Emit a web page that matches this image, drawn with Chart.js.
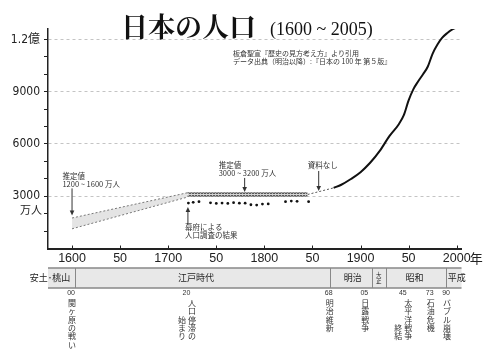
<!DOCTYPE html>
<html>
<head>
<meta charset="utf-8">
<script src="https://cdn.jsdelivr.net/npm/chart.js@4"></script>
<style>
html, body { margin: 0; padding: 0; background: #fff; }
</style>
</head>
<body>
<canvas id="myChart" width="500" height="353"></canvas>
<script>
// axis ticks
const xTicks = [1600, 1650, 1700, 1750, 1800, 1850, 1900, 1950, 2000];
const xTickLabels = ["1600", "50", "1700", "50", "1800", "50", "1900", "50", "2000"];
const yLabelValues = [3000, 6000, 9000, 12000];
const yLabelTexts = ["3000", "6000", "9000", "1.2億"];

// estimate band 1600-1720 (万人)
const estYears = [1600, 1720];
const estHigh = [1750, 3200];
const estLow = [1130, 2950];

// flat estimate 3000-3200
const flatYears = [1720, 1845];
const flatHigh = [3200, 3200];
const flatLow = [3000, 3000];

// no data
const gapYears = [1845, 1872];
const gapValues = [3100, 3480];

// census after Meiji
const censusYears = [1872, 1880, 1890, 1900, 1910, 1920, 1930, 1940, 1945, 1950, 1955, 1960, 1965, 1970, 1975, 1980, 1985, 1990, 1995, 2000, 2005];
const censusValues = [3480, 3660, 3990, 4380, 4920, 5600, 6450, 7150, 7650, 8500, 9150, 9600, 10000, 10450, 11190, 11710, 12100, 12360, 12560, 12690, 12780];

// shogunate surveys
const surveyYears = [1721, 1726, 1732, 1744, 1750, 1756, 1762, 1768, 1774, 1780, 1786, 1792, 1798, 1804, 1822, 1828, 1834, 1846];
const surveyValues = [2610, 2650, 2690, 2620, 2590, 2610, 2590, 2630, 2600, 2600, 2510, 2490, 2550, 2560, 2690, 2720, 2710, 2690];

// eras
const periodNames = ["安土･桃山", "江戸時代", "明治", "大正", "昭和", "平成"];
const periodStarts = [1575, 1603, 1868, 1912, 1926, 1989];
const periodLabelYears = [1577, 1729, 1892, 1919, 1956, 2000];

// events
const eventYears = [1600, 1720, 1868, 1905, 1945, 1973, 1990];
const eventNums = ["00", "20", "68", "05", "45", "73", "90"];
const eventTexts = [["関ヶ原の戦い"], ["人口停滞の", "始まり"], ["明治維新"], ["日露戦争"], ["太平洋戦争", "終結"], ["石油危機"], ["バブル崩壊"]];

const CJK = '"Noto Sans CJK JP", sans-serif';

function pairs(xs, ys){
    return xs.map((v, i) => ({x: v, y: ys[i]}));
}

function makePattern(){
    const c = document.createElement('canvas');
    c.width = 3; c.height = 3;
    const g = c.getContext('2d');
    g.fillStyle = '#d4d4d4';
    g.fillRect(0, 0, 3, 3);
    g.fillStyle = '#555';
    g.fillRect(0, 0, 2, 2);
    return document.getElementById('myChart').getContext('2d').createPattern(c, 'repeat');
}

function arrow(ctx, x, y0, y1){
    const dir = y1 > y0 ? 1 : -1;
    ctx.beginPath();
    ctx.moveTo(x, y0);
    ctx.lineTo(x, y1 - dir * 4);
    ctx.stroke();
    ctx.beginPath();
    ctx.moveTo(x, y1);
    ctx.lineTo(x - 2.3, y1 - dir * 5);
    ctx.lineTo(x + 2.3, y1 - dir * 5);
    ctx.closePath();
    ctx.fill();
}

const extras = {
    id: 'extras',
    afterDraw(chart){
        const {ctx, chartArea} = chart;
        const x = chart.scales.x, y = chart.scales.y;
        ctx.save();

        // title
        ctx.fillStyle = '#111';
        ctx.textBaseline = 'alphabetic';
        ctx.textAlign = 'left';
        ctx.font = 'bold 27px "Noto Serif CJK JP", ' + CJK;
        ctx.fillText('日本の人口', 121, 37);
        ctx.font = '18px "Liberation Serif", serif';
        ctx.fillText('(1600 ~ 2005)', 270, 35);

        ctx.fillStyle = '#333';
        ctx.font = '7px ' + CJK;
        ctx.textBaseline = 'middle';
        ctx.fillText('板倉聖宣『歴史の見方考え方』より引用', 233, 53);
        ctx.fillText('データ出典（明治以降）:『日本の 100 年 第５版』', 233, 61);

        // unit labels
        ctx.fillStyle = '#222';
        ctx.font = '11px ' + CJK;
        ctx.textAlign = 'right';
        ctx.fillText('万人', 42, y.getPixelForValue(3000) + 14);
        ctx.textAlign = 'left';
        ctx.font = '13px ' + CJK;
        ctx.fillText('年', x.getPixelForValue(2000) + 13, chartArea.bottom + 10);

        // small upward ticks on x axis
        ctx.strokeStyle = '#222';
        ctx.lineWidth = 1;
        ctx.beginPath();
        xTicks.forEach(v => {
            const px = Math.round(x.getPixelForValue(v)) + 0.5;
            ctx.moveTo(px, chartArea.bottom);
            ctx.lineTo(px, chartArea.bottom - 3);
        });
        ctx.stroke();

        // annotations
        ctx.fillStyle = '#333';
        ctx.strokeStyle = '#333';
        ctx.font = '7.5px ' + CJK;
        const notes = [
            {tx: 1590, ty: 4150, lines: ["推定値", "1200 ~ 1600 万人"], ax: 1600, a0: 3450, a1: 1900},
            {tx: 1752.5, ty: 4790, lines: ["推定値", "3000 ~ 3200 万人"], ax: 1779.5, a0: 4050, a1: 3240},
            {tx: 1845, ty: 4790, lines: ["資料なし"], ax: 1856.5, a0: 4450, a1: 3300},
            {tx: 1717.5, ty: 1230, lines: ["幕府による", "人口調査の結果"], ax: 1720.5, a0: 1350, a1: 2380}
        ];
        notes.forEach(n => {
            const px = x.getPixelForValue(n.tx), py = y.getPixelForValue(n.ty);
            n.lines.forEach((t, i) => ctx.fillText(t, px, py + i * 8));
            arrow(ctx, x.getPixelForValue(n.ax), y.getPixelForValue(n.a0), y.getPixelForValue(n.a1));
        });

        // era bar
        const top = chartArea.bottom + 19.5, bot = chartArea.bottom + 39.5;
        const left = x.getPixelForValue(periodStarts[0]);
        const right = x.getPixelForValue(2005);
        ctx.fillStyle = '#e8e8e8';
        ctx.fillRect(left, top, right - left, bot - top);
        ctx.strokeStyle = '#888';
        ctx.lineWidth = 1.5;
        ctx.beginPath();
        ctx.moveTo(left, top);
        ctx.lineTo(right, top);
        ctx.moveTo(left, bot);
        ctx.lineTo(right, bot);
        ctx.stroke();
        ctx.lineWidth = 1;
        ctx.beginPath();
        for (let i = 1; i < periodStarts.length; i++){
            const px = Math.round(x.getPixelForValue(periodStarts[i])) + 0.5;
            ctx.moveTo(px, top);
            ctx.lineTo(px, bot);
        }
        ctx.stroke();

        ctx.fillStyle = '#222';
        ctx.textAlign = 'center';
        ctx.textBaseline = 'middle';
        periodNames.forEach((name, i) => {
            const px = x.getPixelForValue(periodLabelYears[i]);
            if (name === '大正'){
                ctx.font = '5.5px ' + CJK;
                ctx.fillText('大', px, top + 6.5);
                ctx.fillText('正', px, top + 12.5);
            } else {
                ctx.font = '9px ' + CJK;
                ctx.fillText(name, px, (top + bot) / 2);
            }
        });

        // events
        eventYears.forEach((yr, i) => {
            const px = x.getPixelForValue(yr);
            ctx.font = '7px "Liberation Sans", sans-serif';
            ctx.fillStyle = '#333';
            ctx.fillText(eventNums[i], px - 1, bot + 5);
            ctx.font = '8px ' + CJK;
            const cols = eventTexts[i];
            const main = cols[0];
            const mx = cols.length > 1 ? px + 4.5 : px;
            [...main].forEach((ch, k) => ctx.fillText(ch, mx, bot + 15 + k * 8.3));
            if (cols.length > 1){
                const sub = cols[1];
                const off = main.length - sub.length;
                [...sub].forEach((ch, k) => ctx.fillText(ch, px - 5.5, bot + 15 + (k + off) * 8.3));
            }
        });

        ctx.restore();
    }
};

const ctx = document.getElementById('myChart').getContext('2d');
const myChart = new Chart(ctx, {
    type: 'line',
    data: {
        datasets: [
            {data: pairs(estYears, estHigh), borderColor: '#777', borderWidth: 1, borderDash: [2, 2], pointRadius: 0, fill: false},
            {data: pairs(estYears, estLow), borderColor: '#777', borderWidth: 1, borderDash: [2, 2], pointRadius: 0,
                fill: {target: 0}, backgroundColor: '#e4e4e4'},
            {data: pairs(flatYears, flatHigh), borderColor: '#666', borderWidth: 1, borderDash: [2, 1], pointRadius: 0, fill: false},
            {data: pairs(flatYears, flatLow), borderColor: '#666', borderWidth: 1, borderDash: [2, 1], pointRadius: 0,
                fill: {target: 2}, backgroundColor: makePattern()},
            {data: pairs(gapYears, gapValues), borderColor: '#555', borderWidth: 1, borderDash: [2, 2], pointRadius: 0, fill: false},
            {data: pairs(censusYears, censusValues), borderColor: '#111', borderWidth: 2, pointRadius: 0,
                cubicInterpolationMode: 'monotone', fill: false},
            {data: pairs(surveyYears, surveyValues), showLine: false, pointRadius: 1.4, pointBorderWidth: 0,
                pointBackgroundColor: '#111', fill: false}
        ]
    },
    options: {
        responsive: false,
        animation: false,
        layout: {padding: {top: 29, right: 38.5, left: 0, bottom: 0}},
        plugins: {legend: {display: false}, tooltip: {enabled: false}},
        scales: {
            x: {
                type: 'linear',
                min: 1575,
                max: 2005,
                afterBuildTicks: s => { s.ticks = xTicks.map(v => ({value: v})); },
                afterFit: s => { s.height = 104.5; },
                ticks: {
                    autoSkip: false,
                    maxRotation: 0,
                    padding: 3,
                    color: '#222',
                    font: {family: '"Liberation Sans", Arial, sans-serif', size: 12.5},
                    callback: v => xTickLabels[xTicks.indexOf(v)]
                },
                grid: {drawOnChartArea: false, drawTicks: false},
                border: {color: '#222', width: 2}
            },
            y: {
                min: 0,
                max: 12600,
                afterBuildTicks: s => {
                    const t = [];
                    for (let v = 1000; v <= 12000; v += 1000) t.push({value: v});
                    s.ticks = t;
                },
                afterFit: s => { s.width = 48; },
                ticks: {
                    padding: 4,
                    color: '#222',
                    font: {family: '"Liberation Sans Narrow", "DejaVu Sans Condensed", "Noto Sans CJK JP", sans-serif', size: 12},
                    callback: v => {
                        const i = yLabelValues.indexOf(v);
                        return i >= 0 ? yLabelTexts[i] : '';
                    }
                },
                grid: {
                    color: c => (c.tick && c.tick.value % 3000 === 0) ? '#c4c4c4' : 'rgba(0,0,0,0)',
                    tickLength: 4,
                    tickColor: '#222',
                    lineWidth: 1
                },
                border: {color: '#222', width: 1.5, dash: [3, 3]}
            }
        }
    },
    plugins: [extras]
});
</script>
</body>
</html>
